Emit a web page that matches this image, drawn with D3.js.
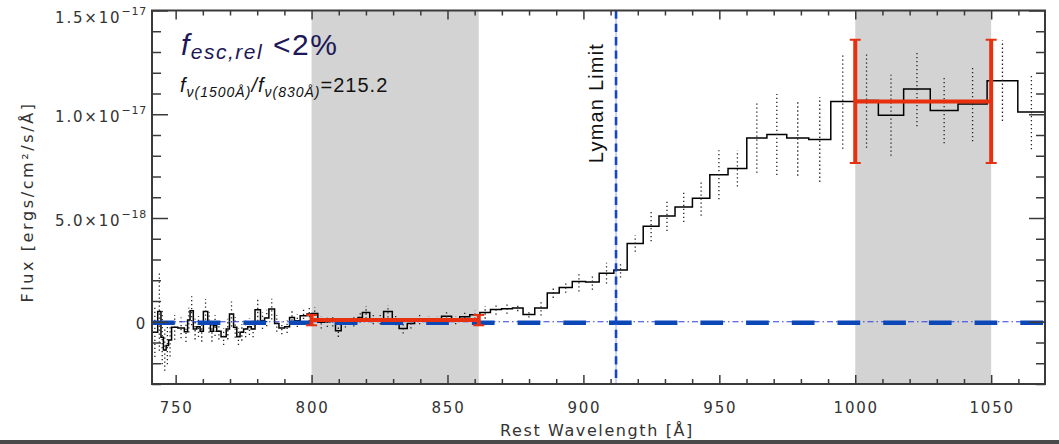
<!DOCTYPE html>
<html>
<head>
<meta charset="utf-8">
<script src="https://cdn.jsdelivr.net/npm/d3@7"></script>
<style>
  html, body { margin: 0; padding: 0; background: #fff; }
  svg { display: block; }
</style>
</head>
<body>
<div class="canvas"></div>
<script>
const width = 1059
const height = 444

// spectrum bins: edges in Å, flux in 1e-18 ergs/cm2/s/Å, 1-sigma error
const binEdges = [741.3, 743.4, 744.6, 745.5, 746.5, 747.4, 748.5, 750.8, 753.2, 754.4,
  755.3, 756.5, 757.8, 759.0, 760.2, 761.8, 762.8, 763.9, 765.1, 766.7,
  768.6, 769.8, 771.3, 772.5, 773.7, 775.0, 776.5, 777.8, 779.2, 781.2,
  782.7, 784.3, 786.4, 788.0, 790.1, 791.9, 793.7, 795.8, 798.3, 800.0,
  802.3, 804.8, 806.8, 808.8, 810.9, 814.0, 817.1, 818.7, 821.4, 824.0,
  826.5, 829.7, 832.2, 835.2, 837.9, 841.6, 844.7, 847.8, 851.5, 854.5,
  858.2, 861.9, 865.8, 869.9, 873.9, 877.8, 882.1, 886.7, 891.1, 895.9,
  900.8, 905.8, 911.2, 916.1, 922.0, 927.8, 933.7, 940.1, 946.5, 953.2,
  960.1, 967.5, 974.8, 982.9, 991.0, 999.8, 1008.5, 1017.8, 1027.6, 1037.8,
  1048.5, 1059.8, 1069.8]

const flux = [-0.5, 0.5, -0.75, -1.36, -1.15, -0.88, -0.27, -0.3, -0.48, 0.08,
  0.53, -0.35, -0.24, -0.46, 0.5, -0.03, -0.46, -0.19, -0.46, -0.72,
  -0.35, 0.37, -0.27, -0.72, -0.51, -0.35, -0.24, -0.35, 0.58, 0.05,
  0.18, 0.61, -0.08, -0.3, -0.24, 0.21, 0.05, 0.29, 0.37, 0.4,
  -0.03, 0.0, 0.02, -0.43, -0.03, 0.02, 0.21, 0.45, 0.13, 0.13,
  0.5, 0.08, -0.32, -0.08, 0.13, 0.08, 0.08, 0.26, 0.08, 0.24,
  0.34, 0.45, 0.59, 0.63, 0.66, 0.35, 0.66, 1.39, 1.65, 1.94,
  1.91, 2.34, 2.49, 3.77, 4.60, 5.10, 5.53, 5.95, 7.08, 7.39,
  8.86, 9.02, 8.86, 8.78, 10.62, 10.66, 9.95, 11.22, 10.18, 10.50,
  11.62, 10.11]

const fluxErr = [1.2, 1.9, 1.3, 1.0, 0.9, 0.8, 0.6, 0.5, 0.5, 0.6,
  0.7, 0.5, 0.5, 0.5, 0.6, 0.5, 0.5, 0.5, 0.4, 0.4,
  0.5, 0.6, 0.5, 0.4, 0.4, 0.4, 0.4, 0.4, 0.55, 0.4,
  0.4, 0.5, 0.4, 0.3, 0.3, 0.35, 0.3, 0.35, 0.35, 0.3,
  0.3, 0.25, 0.25, 0.3, 0.25, 0.25, 0.25, 0.3, 0.25, 0.25,
  0.3, 0.25, 0.25, 0.25, 0.25, 0.2, 0.2, 0.25, 0.2, 0.25,
  0.2, 0.3, 0.25, 0.25, 0.15, 0.15, 0.36, 0.24, 0.25, 0.48,
  0.37, 0.5, 0.36, 0.4, 0.72, 0.73, 0.72, 0.84, 1.18, 0.87,
  1.68, 1.95, 1.82, 2.04, 2.28, 2.28, 1.95, 1.8, 1.58, 1.8,
  1.94, 1.8]

// shaded windows
const bandLo = [800, 1000]
const bandHi = [861.5, 1050]

// mean flux in each window (red)
const measVal = [0.08, 10.62]
const measErr = [0.25, 2.97]

const lymanLimit = 912

const xTicks = [750, 800, 850, 900, 950, 1000, 1050]
const yTicks = [0, 5, 10, 15]
const yTickMant = ['0', '5.0', '1.0', '1.5']
const yTickExp = ['', '−18', '−17', '−17']

const axisColor = '#3a3a3a'
const labelFont = 'DejaVu Sans, sans-serif'
const textFont = 'Liberation Sans, Arial, sans-serif'
const redColor = '#e6300f'

const margin = {left: 152, right: 14, top: 10.5, bottom: 60}
const plotW = width - margin.left - margin.right
const plotH = height - margin.top - margin.bottom

const svg = d3.select('.canvas')
        .append('svg')
        .attr('width', width)
        .attr('height', height)
        .attr('viewBox', `0 0 ${width} ${height}`)

const x = d3.scaleLinear()
    .domain([741.3, 1069.8])
    .range([margin.left, margin.left + plotW])

const y = d3.scaleLinear()
    .domain([-3, 15])
    .range([margin.top + plotH, margin.top])

svg.append('defs').append('clipPath')
    .attr('id', 'plot-clip')
    .append('rect')
    .attr('x', margin.left)
    .attr('y', margin.top)
    .attr('width', plotW)
    .attr('height', plotH)

const graph = svg.append('g').attr('clip-path', 'url(#plot-clip)')

// *grey windows
graph.selectAll('.band')
    .data(bandLo)
    .enter()
    .append('rect')
    .attr('class', 'band')
    .attr('x', d => x(d))
    .attr('width', (d, i) => x(bandHi[i]) - x(d))
    .attr('y', margin.top)
    .attr('height', plotH)
    .attr('fill', '#d3d3d3')

// *step spectrum
const stepPts = []
flux.forEach((f, i) => {
    stepPts.push([binEdges[i], f], [binEdges[i + 1], f])
})

const line = d3.line()
    .x(d => x(d[0]))
    .y(d => y(d[1]))

graph.append('path')
    .datum(stepPts)
    .attr('d', line)
    .attr('fill', 'none')
    .attr('stroke', '#000')
    .attr('stroke-width', 1.5)

// *dotted error bars at bin centres
graph.selectAll('.err')
    .data(flux)
    .enter()
    .append('line')
    .attr('class', 'err')
    .attr('x1', (d, i) => x((binEdges[i] + binEdges[i + 1]) / 2))
    .attr('x2', (d, i) => x((binEdges[i] + binEdges[i + 1]) / 2))
    .attr('y1', (d, i) => y(d - fluxErr[i]))
    .attr('y2', (d, i) => y(d + fluxErr[i]))
    .attr('stroke', '#222')
    .attr('stroke-width', 1.3)
    .attr('stroke-dasharray', '1.3,2.7')

// *zero level lines
graph.append('line')
    .attr('x1', x.range()[0]).attr('x2', x.range()[1])
    .attr('y1', y(0)).attr('y2', y(0))
    .attr('stroke', '#2b3fe6')
    .attr('stroke-width', 1.2)
    .attr('stroke-dasharray', '6,3,1.5,3')

graph.append('line')
    .attr('x1', x.range()[0]).attr('x2', x.range()[1])
    .attr('y1', y(0) + 1).attr('y2', y(0) + 1)
    .attr('stroke', '#0c47b8')
    .attr('stroke-width', 4.5)
    .attr('stroke-dasharray', '22.7,23')

// *Lyman limit
graph.append('line')
    .attr('x1', x(lymanLimit)).attr('x2', x(lymanLimit))
    .attr('y1', y.range()[0]).attr('y2', y.range()[1])
    .attr('stroke', '#a8b4f4')
    .attr('stroke-width', 1.2)

graph.append('line')
    .attr('x1', x(lymanLimit)).attr('x2', x(lymanLimit))
    .attr('y1', y.range()[1]).attr('y2', y.range()[0])
    .attr('stroke', '#1746c4')
    .attr('stroke-width', 2.6)
    .attr('stroke-dasharray', '8.3,5')

svg.append('text')
    .attr('transform', `translate(${x(lymanLimit) - 13}, 103) rotate(-90)`)
    .attr('text-anchor', 'middle')
    .attr('font-family', textFont)
    .attr('font-size', 20)
    .style('letter-spacing', '1.2px')
    .attr('fill', '#111')
    .text('Lyman Limit')

// *red window means
const meas = graph.selectAll('.meas')
    .data(measVal)
    .enter()
    .append('g')
    .attr('class', 'meas')

meas.append('line')
    .attr('x1', (d, i) => x(bandLo[i]))
    .attr('x2', (d, i) => x(bandHi[i]))
    .attr('y1', d => y(d))
    .attr('y2', d => y(d))
    .attr('stroke', redColor)
    .attr('stroke-width', 4)

;[bandLo, bandHi].forEach(edge => {
    meas.append('line')
        .attr('x1', (d, i) => x(edge[i]))
        .attr('x2', (d, i) => x(edge[i]))
        .attr('y1', (d, i) => y(d - measErr[i]))
        .attr('y2', (d, i) => y(d + measErr[i]))
        .attr('stroke', redColor)
        .attr('stroke-width', 4)
    ;[-1, 1].forEach(s => {
        meas.append('line')
            .attr('x1', (d, i) => x(edge[i]) - 5.5)
            .attr('x2', (d, i) => x(edge[i]) + 5.5)
            .attr('y1', (d, i) => y(d + s * measErr[i]))
            .attr('y2', (d, i) => y(d + s * measErr[i]))
            .attr('stroke', redColor)
            .attr('stroke-width', 2)
    })
})

// *axes (ticks pointing inwards)
function drawAxis(axis, transform) {
    const g = svg.append('g').attr('transform', transform).call(axis)
    g.select('.domain').remove()
    g.selectAll('line').attr('stroke', axisColor).attr('stroke-width', 1.5)
}
const xMinor = d3.range(750, 1061, 10).filter(v => !xTicks.includes(v))
const yMinor = d3.range(-3, 15.5, 1).filter(v => !yTicks.includes(v))
const bottomY = y.range()[0]
const topY = y.range()[1]
const leftX = x.range()[0]
const rightX = x.range()[1]

drawAxis(d3.axisBottom(x).tickValues(xMinor).tickSize(-5).tickFormat(''), `translate(0,${bottomY})`)
drawAxis(d3.axisBottom(x).tickValues(xTicks).tickSize(-9).tickFormat(''), `translate(0,${bottomY})`)
drawAxis(d3.axisTop(x).tickValues(xMinor).tickSize(-5).tickFormat(''), `translate(0,${topY})`)
drawAxis(d3.axisTop(x).tickValues(xTicks).tickSize(-9).tickFormat(''), `translate(0,${topY})`)
drawAxis(d3.axisLeft(y).tickValues(yMinor).tickSize(-9).tickFormat(''), `translate(${leftX},0)`)
drawAxis(d3.axisLeft(y).tickValues(yTicks).tickSize(-16).tickFormat(''), `translate(${leftX},0)`)
drawAxis(d3.axisRight(y).tickValues(yMinor).tickSize(-9).tickFormat(''), `translate(${rightX},0)`)
drawAxis(d3.axisRight(y).tickValues(yTicks).tickSize(-16).tickFormat(''), `translate(${rightX},0)`)

svg.append('rect')
    .attr('x', leftX)
    .attr('y', topY)
    .attr('width', plotW)
    .attr('height', plotH)
    .attr('fill', 'none')
    .attr('stroke', axisColor)
    .attr('stroke-width', 2)

// *tick labels
svg.selectAll('.xlab')
    .data(xTicks)
    .enter()
    .append('text')
    .attr('class', 'xlab')
    .attr('x', d => x(d) + 1)
    .attr('y', bottomY + 29)
    .attr('text-anchor', 'middle')
    .attr('font-family', labelFont)
    .attr('font-size', 15)
    .style('letter-spacing', '1.8px')
    .attr('fill', '#333')
    .text(d => d)

const ylab = svg.selectAll('.ylab')
    .data(yTicks)
    .enter()
    .append('text')
    .attr('class', 'ylab')
    .attr('x', leftX - 5)
    .attr('y', d => Math.max(y(d) + 7.5, 23))
    .attr('text-anchor', 'end')
    .attr('font-family', labelFont)
    .attr('fill', '#333')
    .style('letter-spacing', '1.8px')

ylab.append('tspan')
    .attr('font-size', 15)
    .text((d, i) => yTickMant[i] + (yTickExp[i] ? '×10' : ''))
ylab.append('tspan')
    .attr('font-size', 11)
    .attr('dy', -8)
    .style('letter-spacing', '0.8px')
    .text((d, i) => yTickExp[i])

// *axis titles
svg.append('text')
    .attr('x', 597)
    .attr('y', 436)
    .attr('text-anchor', 'middle')
    .attr('font-family', labelFont)
    .attr('font-size', 16)
    .style('letter-spacing', '1.6px')
    .attr('fill', '#333')
    .text('Rest Wavelength [Å]')

svg.append('text')
    .attr('transform', 'translate(33, 202) rotate(-90)')
    .attr('text-anchor', 'middle')
    .attr('font-family', labelFont)
    .attr('font-size', 16)
    .style('letter-spacing', '2.6px')
    .attr('fill', '#333')
    .text('Flux [ergs/cm²/s/Å]')

// *annotation top left
const t1 = svg.append('text')
    .attr('x', 181)
    .attr('y', 55)
    .attr('font-family', textFont)
    .attr('fill', '#1d1857')
    .style('letter-spacing', '1.5px')
t1.append('tspan').attr('font-style', 'italic').attr('font-size', 30).text('f')
t1.append('tspan').attr('font-style', 'italic').attr('font-size', 21).attr('dy', 4).text('esc,rel')
t1.append('tspan').attr('font-size', 30).attr('dy', -4).text(' <2%')

const t2 = svg.append('text')
    .attr('x', 180)
    .attr('y', 92)
    .attr('font-family', textFont)
    .attr('fill', '#111')
    .style('letter-spacing', '1px')
t2.append('tspan').attr('font-style', 'italic').attr('font-size', 20).text('f')
t2.append('tspan').attr('font-style', 'italic').attr('font-size', 14).attr('dy', 5).text('ν(1500Å)')
t2.append('tspan').attr('font-style', 'italic').attr('font-size', 20).attr('dy', -5).text('/f')
t2.append('tspan').attr('font-style', 'italic').attr('font-size', 14).attr('dy', 5).text('ν(830Å)')
t2.append('tspan').attr('font-size', 20).attr('dy', -5).text('=215.2')

// bottom edge bar
svg.append('rect')
    .attr('x', 0)
    .attr('y', 440)
    .attr('width', width)
    .attr('height', 4)
    .attr('fill', '#4a4a4a')
</script>
</body>
</html>
